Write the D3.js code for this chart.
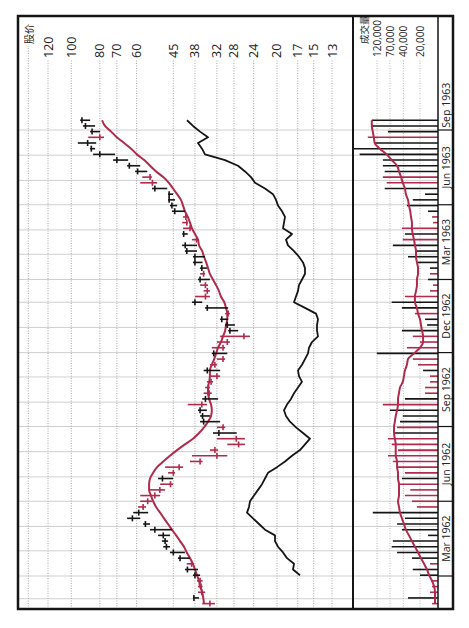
<!DOCTYPE html>
<html>
<head>
<meta charset="utf-8">
<title>股价 weekly chart 1962-1963</title>
<script src="https://d3js.org/d3.v7.min.js"></script>
<style>
  body { margin: 0; background: #fff; }
  text { font-family: "Open Sans", "DejaVu Sans", sans-serif; fill: #222; }
</style>
</head>
<body>
<div id="chart"></div>
<script>
//----------------------------DATA-------------------------------//
// weekly bars, one per Friday from 26 Jan 1962
var firstWeek = new Date(1962, 0, 26);
var weekCount = 86;

var highs = [35.9, 38.6, 37.1, 37.1, 37.4, 38.6, 41.1, 40.5, 43.4, 46.2,
             48.7, 49.2, 50.7, 54.0, 57.0, 64.6, 61.6, 59.3, 58.3, 58.3,
             54.0, 49.9, 50.7, 46.9, 48.0, 39.5, 38.9, 33.8, 29.5, 32.0,
             33.0, 32.0, 36.5, 36.5, 37.1, 40.2, 35.9, 35.5, 35.1, 34.6,
             33.8, 35.5, 33.8, 32.0, 33.3, 33.3, 32.0, 31.2, 29.3, 30.0,
             31.2, 30.0, 35.1, 38.9, 38.0, 35.5, 36.5, 37.1, 36.5, 36.5,
             38.6, 38.6, 41.1, 42.0, 38.9, 42.0, 41.7, 42.0, 41.7, 45.5,
             46.2, 46.9, 46.9, 53.2, 58.3, 57.4, 60.7, 64.6, 72.1, 84.3,
             86.3, 95.0, 87.6, 86.3, 91.3, 93.3];
var lows  = [32.5, 36.8, 35.1, 35.8, 35.8, 36.5, 37.1, 38.3, 39.5, 41.1,
             46.2, 46.9, 46.2, 45.5, 54.0, 58.3, 54.8, 55.7, 53.2, 49.9,
             48.0, 45.1, 45.1, 44.4, 41.7, 35.8, 29.5, 31.7, 25.7, 25.7,
             27.4, 30.0, 31.2, 33.8, 34.6, 34.6, 31.7, 33.3, 33.8, 33.0,
             31.2, 31.2, 32.0, 30.0, 29.5, 30.0, 28.9, 24.7, 27.1, 27.8,
             29.3, 28.9, 29.3, 35.9, 33.8, 33.8, 34.3, 33.8, 35.1, 34.6,
             35.8, 35.1, 37.4, 37.4, 37.1, 40.2, 38.9, 40.2, 40.5, 41.1,
             43.7, 44.4, 45.1, 47.2, 51.1, 53.2, 55.2, 58.3, 64.1, 71.0,
             83.0, 82.3, 77.4, 79.8, 83.0, 86.3];
var closes = [33.8, 38.3, 36.0, 36.2, 36.5, 38.0, 40.3, 39.0, 42.7, 45.0,
              47.5, 48.0, 48.7, 52.0, 56.0, 62.0, 59.0, 57.0, 55.0, 52.0,
              50.0, 46.0, 49.0, 45.0, 43.0, 36.5, 32.0, 32.5, 27.0, 27.5,
              31.5, 30.5, 35.5, 35.8, 36.5, 36.0, 35.0, 34.0, 34.2, 33.5,
              32.0, 34.5, 32.5, 30.5, 32.8, 30.5, 29.5, 25.9, 28.9, 29.5,
              30.8, 29.3, 34.5, 38.0, 35.0, 34.5, 35.0, 36.5, 35.5, 36.0,
              38.0, 38.0, 40.5, 41.0, 37.5, 41.5, 39.5, 40.5, 40.8, 44.5,
              45.5, 46.5, 46.5, 52.0, 53.0, 54.0, 59.5, 63.5, 70.0, 80.0,
              85.5, 88.0, 80.0, 85.0, 89.5, 92.0];
// k = black week, r = red week (price bar and volume bar)
var weekColors = ["r","k","r","r","r","k","k","r","k","k",
                  "k","k","k","k","k","k","k","r","r","r",
                  "r","r","k","r","r","r","r","r","r","r",
                  "k","r","k","k","k","r","k","r","r","r",
                  "r","k","r","r","k","r","r","r","k","k",
                  "k","r","k","k","r","r","r","k","r","k",
                  "k","k","k","k","r","k","r","r","r","k",
                  "k","k","k","k","r","r","k","k","k","k",
                  "k","k","r","k","k","k"];
// moving average of price
var priceAvg = [35.4, 35.6, 35.9, 36.5, 36.8, 37.4, 38.0, 38.6, 39.5, 40.5,
                41.4, 42.7, 44.0, 45.5, 46.9, 48.4, 49.9, 51.5, 52.7, 53.6,
                54.4, 54.4, 54.0, 52.7, 51.1, 48.7, 46.2, 43.7, 41.1, 38.6,
                36.8, 35.4, 34.3, 33.5, 33.3, 33.5, 34.0, 34.3, 34.3, 34.0,
                33.8, 33.8, 33.3, 32.7, 32.2, 31.7, 31.0, 30.5, 30.0, 29.8,
                29.5, 29.5, 29.8, 30.2, 31.0, 31.5, 32.2, 33.0, 33.8, 34.3,
                34.8, 35.4, 35.9, 36.8, 37.1, 38.0, 38.9, 39.5, 40.2, 41.1,
                41.7, 42.4, 43.7, 45.1, 46.6, 48.7, 51.5, 54.0, 56.5, 59.8,
                62.6, 66.1, 70.0, 73.2, 76.8, 78.6];
// relative strength line, starts at week 5
var rsStart = 5;
var relStrength = [30, 37, 36, 43, 47, 52, 55, 55, 65, 71,
                   77, 83, 81, 80, 76, 72, 68, 65, 62, 53,
                   45, 38, 30, 25, 20, 27, 34, 40, 44, 46,
                   43, 39, 36, 32, 28, 31, 32, 28, 25, 22,
                   21, 18, 12, 13, 13, 12, 14, 25, 36, 34,
                   32, 31, 28, 25, 25, 27, 31, 36, 42, 44,
                   38, 47, 46, 45, 48, 52, 54, 57, 65, 75,
                   79, 85, 92, 105, 125, 128, 132, 122, 130, 137,
                   143];
var volumes = [12100, 33000, 13200, 12100, 12600, 20000, 27000, 13200, 28000, 52000,
               65000, 62000, 14300, 42500, 52000, 37500, 143000, 22700, 28000, 37500,
               30000, 46000, 42500, 37500, 50000, 62000, 76000, 50000, 65000, 76000,
               57000, 52000, 46000, 41000, 70000, 94000, 37500, 16200, 16200, 13200,
               13200, 17600, 21700, 27000, 121000, 34500, 20000, 27000, 42500, 14900,
               16200, 24700, 42500, 65000, 37500, 13200, 11600, 14300, 13200, 13200,
               21700, 33000, 24700, 62000, 41000, 37500, 42500, 11600, 12100, 14300,
               34500, 27000, 16200, 87000, 80000, 94000, 87000, 94000, 94000, 247000,
               330000, 132000, 176000, 76000, 149000, 149000];
var volumeAvg = [10700, 10700, 10700, 11100, 12100, 13700, 14900, 16900, 19200, 21700,
                 24700, 28000, 31700, 36000, 39000, 42500, 46000, 48000, 50000, 48000,
                 48000, 48000, 50000, 50000, 52000, 52000, 55000, 55000, 55000, 57000,
                 59000, 59000, 57000, 55000, 52000, 50000, 50000, 48000, 46000, 41000,
                 39000, 37500, 34500, 33000, 25700, 20000, 17600, 17600, 18400, 19200,
                 20000, 21700, 22700, 24700, 24700, 23600, 22700, 22700, 21700, 21700,
                 22700, 23600, 23600, 24700, 25700, 27000, 28000, 28000, 29100, 30000,
                 31700, 33000, 36000, 37500, 41000, 44000, 48000, 52000, 65000, 80000,
                 107000, 132000, 137000, 143000, 149000, 149000];

var priceTicks = [120, 100, 80, 70, 60, 45, 38, 32, 28, 24, 20, 17, 15, 13];
var priceTitleLevel = 140;
var volumeTicks = [120000, 70000, 40000, 20000];
var quarterStarts = ["1962-03-01", "1962-06-01", "1962-09-01", "1962-12-01",
                     "1963-03-01", "1963-06-01", "1963-09-01", "1963-11-01"];
var quarterLabels = ["Mar 1962", "Jun 1962", "Sep 1962", "Dec 1962",
                     "Mar 1963", "Jun 1963", "Sep 1963"];

//------------------------------SVG------------------------------//
var W = 469, H = 628;
var red = "#b02a4c", black = "#151515";

var svg = d3.select("#chart").append("svg")
    .attr("width", W)
    .attr("height", H);
svg.append("rect").attr("width", W).attr("height", H).attr("fill", "#fff");

// the chart lies on its side: draw it flat, then turn it a quarter left
var g = svg.append("g")
    .attr("transform", "translate(0," + H + ") rotate(-90)");

var frameL = 19, frameR = 612, frameT = 18, priceBottom = 353, volBottom = 438, frameB = 453;

var parse = d3.timeParse("%Y-%m-%d");
var weeks = d3.range(weekCount).map(function(i) { return d3.timeWeek.offset(firstWeek, i); });

var x = d3.scaleTime()
    .domain([new Date(1962, 2, 1), new Date(1963, 8, 1)])
    .range([52, 498]);
var y = d3.scaleLog().domain([120, 13]).range([48, 332]);
var yVol = d3.scaleLog().domain([20000, 120000]).range([420, 377]);
var yRs = d3.scaleLinear().domain([0, 150]).range([330, 180]);

//----------------------------GRID-------------------------------//
var months = d3.timeMonth.range(new Date(1962, 1, 1), new Date(1963, 8, 2));
g.append("g").selectAll("line")
    .data(months)
    .enter().append("line")
    .attr("x1", function(d) { return x(d); })
    .attr("x2", function(d) { return x(d); })
    .attr("y1", frameT)
    .attr("y2", volBottom)
    .attr("stroke", "#cfcfcf")
    .attr("stroke-width", 1);

g.append("g").selectAll("line")
    .data(priceTicks)
    .enter().append("line")
    .attr("x1", frameL)
    .attr("x2", 568)
    .attr("y1", function(d) { return y(d); })
    .attr("y2", function(d) { return y(d); })
    .attr("stroke", "#a8a8a8")
    .attr("stroke-dasharray", "1,1.5");
g.append("line")
    .attr("x1", frameL).attr("x2", 582)
    .attr("y1", y(priceTitleLevel)).attr("y2", y(priceTitleLevel))
    .attr("stroke", "#a8a8a8")
    .attr("stroke-dasharray", "1,1.5");

g.append("g").selectAll("line")
    .data(volumeTicks)
    .enter().append("line")
    .attr("x1", frameL)
    .attr("x2", 568)
    .attr("y1", function(d) { return yVol(d); })
    .attr("y2", function(d) { return yVol(d); })
    .attr("stroke", "#b8b8b8")
    .attr("stroke-dasharray", "1,1.5");

//---------------------------LABELS------------------------------//
g.append("g").selectAll("text")
    .data(priceTicks)
    .enter().append("text")
    .attr("x", 570)
    .attr("y", function(d) { return y(d); })
    .attr("dominant-baseline", "central")
    .style("font-size", "12.5px")
    .text(function(d) { return d; });
g.append("text")
    .attr("x", 584)
    .attr("y", y(priceTitleLevel))
    .attr("dominant-baseline", "central")
    .style("font-size", "10px")
    .style("font-family", "'Noto Sans CJK SC', sans-serif")
    .text("股价");

g.append("g").selectAll("text")
    .data(volumeTicks)
    .enter().append("text")
    .attr("x", 571)
    .attr("y", function(d) { return yVol(d); })
    .attr("dominant-baseline", "central")
    .style("font-size", "10px")
    .text(function(d) { return d3.format(",")(d); });
g.append("text")
    .attr("x", 584)
    .attr("y", 364)
    .attr("dominant-baseline", "central")
    .style("font-size", "9.5px")
    .style("font-family", "'Noto Sans CJK SC', sans-serif")
    .text("成交量");

//----------------------------LINES------------------------------//
var avgLine = d3.line()
    .x(function(d, i) { return x(weeks[i]); })
    .y(function(d) { return y(d); })
    .curve(d3.curveMonotoneX);
g.append("path")
    .attr("d", avgLine(priceAvg))
    .attr("fill", "none")
    .attr("stroke", red)
    .attr("stroke-width", 2);

var rsLine = d3.line()
    .x(function(d, i) { return x(weeks[i + rsStart]); })
    .y(function(d) { return yRs(d); });
g.append("path")
    .attr("d", rsLine(relStrength))
    .attr("fill", "none")
    .attr("stroke", black)
    .attr("stroke-width", 1.8)
    .attr("stroke-linejoin", "round");

//----------------------------BARS-------------------------------//
var bars = g.append("g").selectAll("g")
    .data(weeks)
    .enter().append("g")
    .attr("stroke", function(d, i) { return weekColors[i] === "r" ? red : black; })
    .attr("stroke-width", 1.6);
bars.append("line")
    .attr("x1", function(d) { return x(d); })
    .attr("x2", function(d) { return x(d); })
    .attr("y1", function(d, i) { return y(highs[i]); })
    .attr("y2", function(d, i) { return y(lows[i]); });
bars.append("line")
    .attr("x1", function(d) { return x(d) - 3; })
    .attr("x2", function(d) { return x(d) + 3; })
    .attr("y1", function(d, i) { return y(closes[i]); })
    .attr("y2", function(d, i) { return y(closes[i]); });

// volume
g.append("g").selectAll("line")
    .data(weeks)
    .enter().append("line")
    .attr("x1", function(d) { return x(d); })
    .attr("x2", function(d) { return x(d); })
    .attr("y1", volBottom)
    .attr("y2", function(d, i) { return yVol(volumes[i]); })
    .attr("stroke", function(d, i) { return weekColors[i] === "r" ? red : black; })
    .attr("stroke-width", 1.6);

var volLine = d3.line()
    .x(function(d, i) { return x(weeks[i]); })
    .y(function(d) { return yVol(d); })
    .curve(d3.curveMonotoneX);
g.append("path")
    .attr("d", volLine(volumeAvg))
    .attr("fill", "none")
    .attr("stroke", red)
    .attr("stroke-width", 2);

//--------------------------DATE STRIP---------------------------//
var qDates = quarterStarts.map(parse);
g.append("g").selectAll("line")
    .data(qDates.slice(0, 7))
    .enter().append("line")
    .attr("x1", function(d) { return x(d); })
    .attr("x2", function(d) { return x(d); })
    .attr("y1", volBottom)
    .attr("y2", frameB)
    .attr("stroke", black)
    .attr("stroke-width", 1.2);
g.append("g").selectAll("text")
    .data(quarterLabels)
    .enter().append("text")
    .attr("x", function(d, i) { return (x(qDates[i]) + x(qDates[i + 1])) / 2; })
    .attr("y", (volBottom + frameB) / 2 + 0.5)
    .attr("text-anchor", "middle")
    .attr("dominant-baseline", "central")
    .style("font-size", "10.5px")
    .text(function(d) { return d; });

//----------------------------FRAME------------------------------//
g.append("line")
    .attr("x1", frameL).attr("x2", frameR)
    .attr("y1", priceBottom).attr("y2", priceBottom)
    .attr("stroke", black).attr("stroke-width", 2);
g.append("line")
    .attr("x1", frameL).attr("x2", frameR)
    .attr("y1", volBottom).attr("y2", volBottom)
    .attr("stroke", black).attr("stroke-width", 1.5);
g.append("rect")
    .attr("x", frameL).attr("y", frameT)
    .attr("width", frameR - frameL).attr("height", frameB - frameT)
    .attr("fill", "none")
    .attr("stroke", black)
    .attr("stroke-width", 2.5);
</script>
</body>
</html>
